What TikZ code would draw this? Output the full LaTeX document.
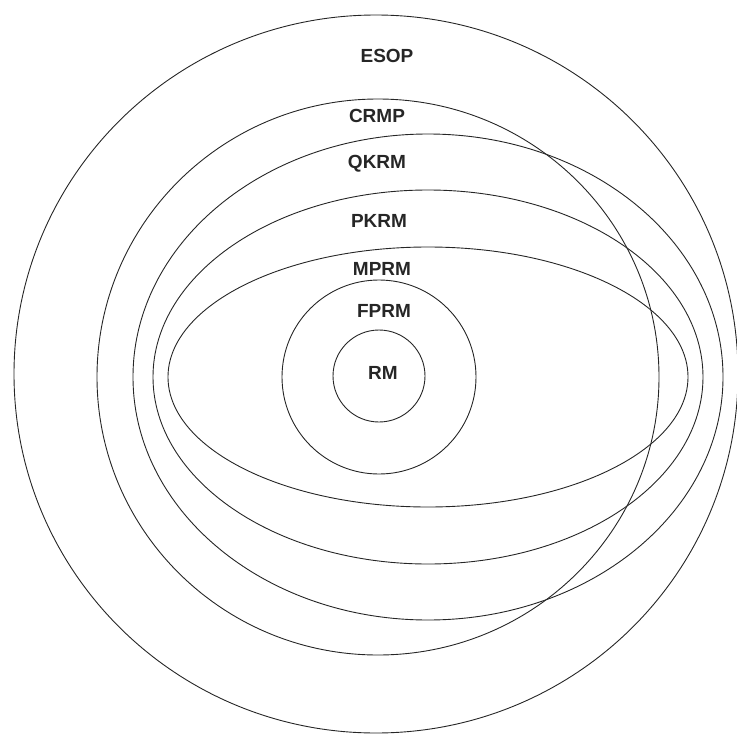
\documentclass[tikz,border=0pt]{standalone}
\usepackage{fontspec}
\setmainfont{Liberation Sans}

\begin{document}
\begin{tikzpicture}[
    x=1pt, y=-1pt,
    setline/.style={
      draw=black!85, line width=0.9pt
    },
    setname/.style={
      font=\fontsize{19}{20}\selectfont\bfseries, text=black!85,
      inner sep=0pt, anchor=center
    }
  ]
  \useasboundingbox (0,0) rectangle (737,734);

  % --- outer classes (circles) ---
  \draw[setline] (376,374) ellipse [x radius=362, y radius=359];
  \draw[setline] (378,377) ellipse [x radius=281, y radius=278];

  % --- shifted ellipses ---
  \draw[setline] (428,377) ellipse [x radius=295, y radius=243];
  \draw[setline] (428,377) ellipse [x radius=275, y radius=187];
  \draw[setline] (428,377) ellipse [x radius=260, y radius=130];

  % --- inner classes ---
  \draw[setline] (379,377) circle [radius=97];
  \draw[setline] (379,376) circle [radius=46];

  % --- class names ---
  \node[setname] (esop) at (387,56) {ESOP};
  \node[setname] (crmp) at (377,116) {CRMP};
  \node[setname] (qkrm) at (377,164) {QKRM};
  \node[setname] (pkrm) at (379,221) {PKRM};
  \node[setname] (mprm) at (382,269) {MPRM};
  \node[setname] (fprm) at (384,311) {FPRM};
  \node[setname] (rm) at (383,373) {RM};
\end{tikzpicture}
\end{document}
